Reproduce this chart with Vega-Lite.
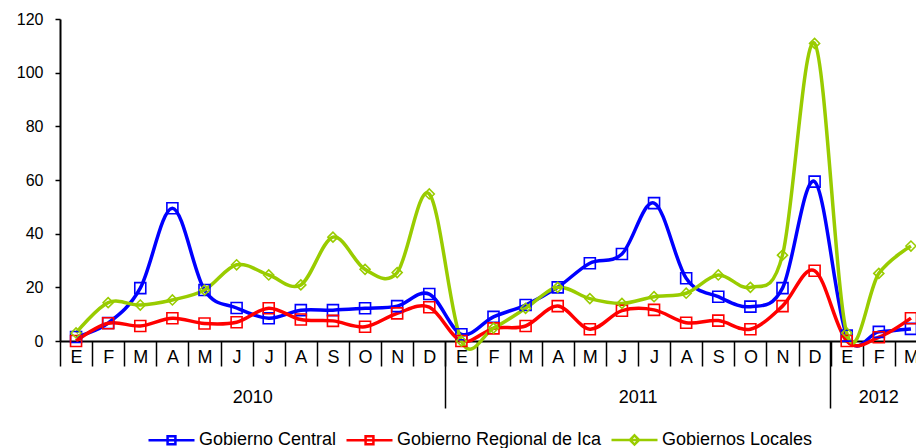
{
  "$schema": "https://vega.github.io/schema/vega-lite/v6.json",
  "autosize": {"type": "none"},
  "width": 856,
  "height": 322,
  "padding": {"left": 60, "top": 19, "right": 0, "bottom": 107},
  "background": "white",
  "config": {"view": {"stroke": null}, "font": "Liberation Sans"},
  "datasets": {
    "d": [
      {"serie": "Gobierno Central", "periodo": "2010-01", "valor": 1.5},
      {"serie": "Gobierno Central", "periodo": "2010-02", "valor": 6.7},
      {"serie": "Gobierno Central", "periodo": "2010-03", "valor": 19.7},
      {"serie": "Gobierno Central", "periodo": "2010-04", "valor": 49.5},
      {"serie": "Gobierno Central", "periodo": "2010-05", "valor": 19},
      {"serie": "Gobierno Central", "periodo": "2010-06", "valor": 12.3},
      {"serie": "Gobierno Central", "periodo": "2010-07", "valor": 8.5},
      {"serie": "Gobierno Central", "periodo": "2010-08", "valor": 11.5},
      {"serie": "Gobierno Central", "periodo": "2010-09", "valor": 11.5},
      {"serie": "Gobierno Central", "periodo": "2010-10", "valor": 12.2},
      {"serie": "Gobierno Central", "periodo": "2010-11", "valor": 13},
      {"serie": "Gobierno Central", "periodo": "2010-12", "valor": 17.5},
      {"serie": "Gobierno Central", "periodo": "2011-01", "valor": 2.5},
      {"serie": "Gobierno Central", "periodo": "2011-02", "valor": 9},
      {"serie": "Gobierno Central", "periodo": "2011-03", "valor": 13.4},
      {"serie": "Gobierno Central", "periodo": "2011-04", "valor": 20},
      {"serie": "Gobierno Central", "periodo": "2011-05", "valor": 29},
      {"serie": "Gobierno Central", "periodo": "2011-06", "valor": 32.4},
      {"serie": "Gobierno Central", "periodo": "2011-07", "valor": 51.4},
      {"serie": "Gobierno Central", "periodo": "2011-08", "valor": 23.4},
      {"serie": "Gobierno Central", "periodo": "2011-09", "valor": 16.5},
      {"serie": "Gobierno Central", "periodo": "2011-10", "valor": 12.8},
      {"serie": "Gobierno Central", "periodo": "2011-11", "valor": 19.7},
      {"serie": "Gobierno Central", "periodo": "2011-12", "valor": 59.4},
      {"serie": "Gobierno Central", "periodo": "2012-01", "valor": 2},
      {"serie": "Gobierno Central", "periodo": "2012-02", "valor": 3.4},
      {"serie": "Gobierno Central", "periodo": "2012-03", "valor": 4.5},
      {"serie": "Gobierno Regional de Ica", "periodo": "2010-01", "valor": 0},
      {"serie": "Gobierno Regional de Ica", "periodo": "2010-02", "valor": 6.6},
      {"serie": "Gobierno Regional de Ica", "periodo": "2010-03", "valor": 5.6},
      {"serie": "Gobierno Regional de Ica", "periodo": "2010-04", "valor": 8.5},
      {"serie": "Gobierno Regional de Ica", "periodo": "2010-05", "valor": 6.5},
      {"serie": "Gobierno Regional de Ica", "periodo": "2010-06", "valor": 7},
      {"serie": "Gobierno Regional de Ica", "periodo": "2010-07", "valor": 12.2},
      {"serie": "Gobierno Regional de Ica", "periodo": "2010-08", "valor": 8},
      {"serie": "Gobierno Regional de Ica", "periodo": "2010-09", "valor": 7.5},
      {"serie": "Gobierno Regional de Ica", "periodo": "2010-10", "valor": 5.3},
      {"serie": "Gobierno Regional de Ica", "periodo": "2010-11", "valor": 10.3},
      {"serie": "Gobierno Regional de Ica", "periodo": "2010-12", "valor": 12.6},
      {"serie": "Gobierno Regional de Ica", "periodo": "2011-01", "valor": 0},
      {"serie": "Gobierno Regional de Ica", "periodo": "2011-02", "valor": 4.7},
      {"serie": "Gobierno Regional de Ica", "periodo": "2011-03", "valor": 5.6},
      {"serie": "Gobierno Regional de Ica", "periodo": "2011-04", "valor": 13},
      {"serie": "Gobierno Regional de Ica", "periodo": "2011-05", "valor": 4.4},
      {"serie": "Gobierno Regional de Ica", "periodo": "2011-06", "valor": 11.3},
      {"serie": "Gobierno Regional de Ica", "periodo": "2011-07", "valor": 11.6},
      {"serie": "Gobierno Regional de Ica", "periodo": "2011-08", "valor": 6.8},
      {"serie": "Gobierno Regional de Ica", "periodo": "2011-09", "valor": 7.6},
      {"serie": "Gobierno Regional de Ica", "periodo": "2011-10", "valor": 4.4},
      {"serie": "Gobierno Regional de Ica", "periodo": "2011-11", "valor": 13},
      {"serie": "Gobierno Regional de Ica", "periodo": "2011-12", "valor": 26.2},
      {"serie": "Gobierno Regional de Ica", "periodo": "2012-01", "valor": 0},
      {"serie": "Gobierno Regional de Ica", "periodo": "2012-02", "valor": 1.4},
      {"serie": "Gobierno Regional de Ica", "periodo": "2012-03", "valor": 8.5},
      {"serie": "Gobiernos Locales", "periodo": "2010-01", "valor": 3},
      {"serie": "Gobiernos Locales", "periodo": "2010-02", "valor": 14.3},
      {"serie": "Gobiernos Locales", "periodo": "2010-03", "valor": 13.4},
      {"serie": "Gobiernos Locales", "periodo": "2010-04", "valor": 15.3},
      {"serie": "Gobiernos Locales", "periodo": "2010-05", "valor": 19},
      {"serie": "Gobiernos Locales", "periodo": "2010-06", "valor": 28.4},
      {"serie": "Gobiernos Locales", "periodo": "2010-07", "valor": 24.6},
      {"serie": "Gobiernos Locales", "periodo": "2010-08", "valor": 20.9},
      {"serie": "Gobiernos Locales", "periodo": "2010-09", "valor": 38.7},
      {"serie": "Gobiernos Locales", "periodo": "2010-10", "valor": 26.7},
      {"serie": "Gobiernos Locales", "periodo": "2010-11", "valor": 25.5},
      {"serie": "Gobiernos Locales", "periodo": "2010-12", "valor": 54.8},
      {"serie": "Gobiernos Locales", "periodo": "2011-01", "valor": 0},
      {"serie": "Gobiernos Locales", "periodo": "2011-02", "valor": 4.8},
      {"serie": "Gobiernos Locales", "periodo": "2011-03", "valor": 12.2},
      {"serie": "Gobiernos Locales", "periodo": "2011-04", "valor": 20},
      {"serie": "Gobiernos Locales", "periodo": "2011-05", "valor": 15.8},
      {"serie": "Gobiernos Locales", "periodo": "2011-06", "valor": 14},
      {"serie": "Gobiernos Locales", "periodo": "2011-07", "valor": 16.5},
      {"serie": "Gobiernos Locales", "periodo": "2011-08", "valor": 17.8},
      {"serie": "Gobiernos Locales", "periodo": "2011-09", "valor": 24.6},
      {"serie": "Gobiernos Locales", "periodo": "2011-10", "valor": 20},
      {"serie": "Gobiernos Locales", "periodo": "2011-11", "valor": 32},
      {"serie": "Gobiernos Locales", "periodo": "2011-12", "valor": 110.9},
      {"serie": "Gobiernos Locales", "periodo": "2012-01", "valor": 3},
      {"serie": "Gobiernos Locales", "periodo": "2012-02", "valor": 25.2},
      {"serie": "Gobiernos Locales", "periodo": "2012-03", "valor": 35.4}
    ]
  },
  "layer": [
    {
      "data": {"name": "d"},
      "mark": {"type": "rule", "opacity": 0},
      "encoding": {
        "x": {
          "field": "periodo", "type": "ordinal",
          "scale": {"type": "band", "paddingInner": 0, "paddingOuter": 0, "range": [0, 867]},
          "axis": {"orient": "bottom", "values": ["2010-01", "2011-01", "2012-01"], "bandPosition": 0, "tickSize": 67, "tickColor": "black", "tickWidth": 1.5, "labels": false, "domain": false, "grid": false, "title": null}
        }
      }
    },
    {
      "data": {"name": "d"},
      "mark": {"type": "rule", "opacity": 0},
      "encoding": {
        "x": {
          "field": "periodo", "type": "ordinal",
          "scale": {"type": "band", "paddingInner": 0, "paddingOuter": 0, "range": [0, 867]},
          "axis": {"orient": "bottom", "values": ["2010-07", "2011-07", "2012-02"], "ticks": false, "domain": false, "grid": false, "title": null, "labelExpr": "substring(datum.value, 0, 4)", "labelOffset": {"condition": {"test": "datum.value === '2012-02'", "value": 0}, "value": -16}, "labelPadding": 47, "labelFontSize": 18, "labelColor": "black", "labelAngle": 0}
        }
      }
    },
    {
      "data": {"name": "d"},
      "encoding": {
        "x": {
          "field": "periodo", "type": "ordinal",
          "scale": {"type": "band", "paddingInner": 0, "paddingOuter": 0, "range": [0, 867]},
          "axis": {"orient": "bottom", "tickBand": "extent", "tickSize": 25, "tickColor": "black", "tickWidth": 1.5, "domainColor": "black", "domainWidth": 2, "labelExpr": "['E','F','M','A','M','J','J','A','S','O','N','D'][toNumber(substring(datum.value, 5, 7)) - 1]", "labelPadding": -18, "labelFontSize": 18, "labelColor": "black", "labelAngle": 0, "grid": false, "title": null}
        },
        "y": {
          "field": "valor", "type": "quantitative",
          "scale": {"domain": [0, 120]},
          "axis": {"values": [0, 20, 40, 60, 80, 100, 120], "tickSize": 5, "tickColor": "black", "tickWidth": 1.5, "domainColor": "black", "domainWidth": 2, "labelFontSize": 16, "labelColor": "black", "labelPadding": 12, "grid": false, "title": null}
        }
      },
      "layer": [
        {
          "mark": {"type": "line", "interpolate": "cardinal", "strokeWidth": 3.5},
          "encoding": {
            "color": {
              "field": "serie", "type": "nominal",
              "scale": {"domain": ["Gobierno Central", "Gobierno Regional de Ica", "Gobiernos Locales"], "range": ["#0000FF", "#FF0000", "#99CC00"]},
              "legend": {
                "orient": "none", "legendX": 87, "legendY": 396, "direction": "horizontal", "title": null,
                "labelFontSize": 18, "labelColor": "black", "labelOffset": 3, "columnPadding": 4, "padding": 0, "labelLimit": 400,
                "symbolSize": 2116, "symbolStrokeWidth": 2.5, "symbolFillColor": "transparent",
                "symbolType": "M-1,0H1M-0.17,-0.17H0.17V0.17H-0.17Z",
                "encode": {"symbols": {"update": {"shape": {"signal": "datum.value === 'Gobiernos Locales' ? 'M-1,0H1M0,-0.2L0.2,0L0,0.2L-0.2,0Z' : 'M-1,0H1M-0.17,-0.17H0.17V0.17H-0.17Z'"}}}}
              }
            }
          }
        },
        {
          "transform": [{"filter": "datum.serie !== 'Gobiernos Locales'"}],
          "mark": {"type": "point", "shape": "square", "size": 121, "filled": false, "strokeWidth": 1.6, "opacity": 1},
          "encoding": {
            "stroke": {"field": "serie", "type": "nominal", "scale": {"domain": ["Gobierno Central", "Gobierno Regional de Ica", "Gobiernos Locales"], "range": ["#0000FF", "#FF0000", "#99CC00"]}, "legend": null}
          }
        },
        {
          "transform": [{"filter": "datum.serie === 'Gobiernos Locales'"}],
          "mark": {"type": "point", "shape": "diamond", "size": 100, "filled": false, "strokeWidth": 1.6, "opacity": 1},
          "encoding": {
            "stroke": {"field": "serie", "type": "nominal", "scale": {"domain": ["Gobierno Central", "Gobierno Regional de Ica", "Gobiernos Locales"], "range": ["#0000FF", "#FF0000", "#99CC00"]}, "legend": null}
          }
        }
      ]
    }
  ],
  "resolve": {"scale": {"x": "independent"}}
}
